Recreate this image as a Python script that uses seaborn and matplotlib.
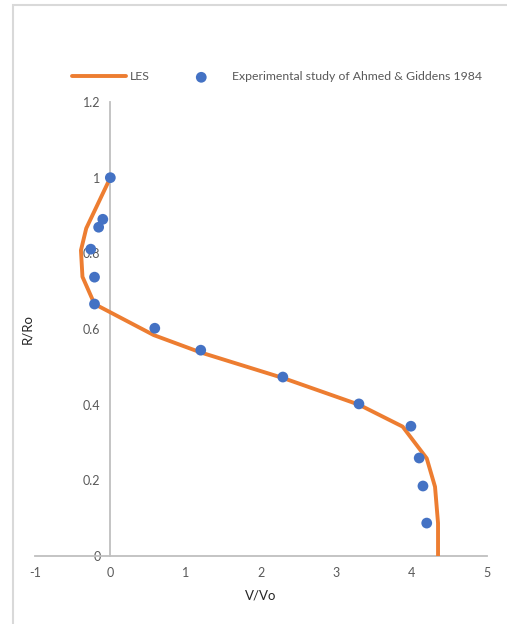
import matplotlib
matplotlib.use("Agg")
import matplotlib.pyplot as plt
from matplotlib.patches import Rectangle
import seaborn as sns
import pandas as pd

# LES velocity profile (V/Vo vs R/Ro)
les_v = [0.0, -0.32, -0.39, -0.37, -0.21, 0.575, 1.2, 2.3, 3.3, 3.88, 4.2, 4.31, 4.35, 4.35]
les_r = [1.0, 0.866, 0.808, 0.738, 0.666, 0.584, 0.538, 0.47, 0.40, 0.342, 0.258, 0.183, 0.087, 0.0]

# Experimental data of Ahmed & Giddens 1984
exp_v = [0.0, -0.10, -0.155, -0.26, -0.21, -0.21, 0.59, 1.20, 2.29, 3.30, 3.99, 4.10, 4.15, 4.20]
exp_r = [1.0, 0.89, 0.869, 0.811, 0.737, 0.666, 0.602, 0.544, 0.473, 0.402, 0.343, 0.259, 0.185, 0.087]

x_ticks = [-1, 0, 1, 2, 3, 4, 5]
y_ticks = [0, 0.2, 0.4, 0.6, 0.8, 1.0, 1.2]
y_tick_labels = ["0", "0.2", "0.4", "0.6", "0.8", "1", "1.2"]

les = pd.DataFrame({"V/Vo": les_v, "R/Ro": les_r})
exp = pd.DataFrame({"V/Vo": exp_v, "R/Ro": exp_r})

sns.set_theme(style="white")
plt.rcParams["font.family"] = ["Lato", "DejaVu Sans"]

W, H = 507, 624
fig = plt.figure(figsize=(W / 100, H / 100), dpi=100)
fig.patch.set_facecolor("white")

# chart frame
fig.patches.append(Rectangle((13 / W, -0.1), 1.2, 1.1 - 5 / H, transform=fig.transFigure,
                             fill=False, edgecolor="#d9d9d9", linewidth=1.5))

left, right, top, bottom = 35, 487, 102, 556
ax = fig.add_axes([left / W, 1 - bottom / H, (right - left) / W, (bottom - top) / H])
ax.set_facecolor("none")

orange = "#ED7D31"
blue = "#4472C4"

sns.lineplot(data=les, x="V/Vo", y="R/Ro", sort=False, estimator=None, ax=ax,
             color=orange, linewidth=2.8, label="LES", zorder=3)
sns.scatterplot(data=exp, x="V/Vo", y="R/Ro", ax=ax, color=blue, s=60, edgecolor="none",
                label="Experimental study of Ahmed & Giddens 1984", zorder=4)

ax.set_xlim(-1, 5)
ax.set_ylim(0, 1.2)
ax.set_xticks(x_ticks)
ax.set_xticklabels([str(t) for t in x_ticks])
ax.set_yticks(y_ticks)
ax.set_yticklabels(y_tick_labels)

for s in ["top", "right"]:
    ax.spines[s].set_visible(False)
ax.spines["left"].set_position(("data", 0))
ax.spines["left"].set_color("#bfbfbf")
ax.spines["bottom"].set_color("#bfbfbf")
ax.spines["left"].set_linewidth(1.3)
ax.spines["bottom"].set_linewidth(1.3)
ax.spines["left"].set_zorder(1)

ax.tick_params(axis="both", length=0, labelsize=9, labelcolor="#595959")
ax.tick_params(axis="y", pad=7)
ax.tick_params(axis="x", pad=8)

ax.set_xlabel("V/Vo", fontsize=9.5, color="#262626")
ax.set_ylabel("R/Ro", fontsize=9.5, color="#262626")
ax.xaxis.set_label_coords(0.5, (556 - 590) / (bottom - top))
ax.yaxis.set_label_coords((33 - left) / (right - left), 0.5)

handles, labels = ax.get_legend_handles_labels()
ax.get_legend().remove()
fig.legend(handles, labels, loc="center left", bbox_to_anchor=(72 / W, 1 - 77 / H),
           ncol=2, frameon=False, fontsize=8.8, labelcolor="#595959",
           handlelength=4.4, handletextpad=0.35, columnspacing=2.0,
           borderpad=0, borderaxespad=0)

fig.savefig("out.png", dpi=100)
